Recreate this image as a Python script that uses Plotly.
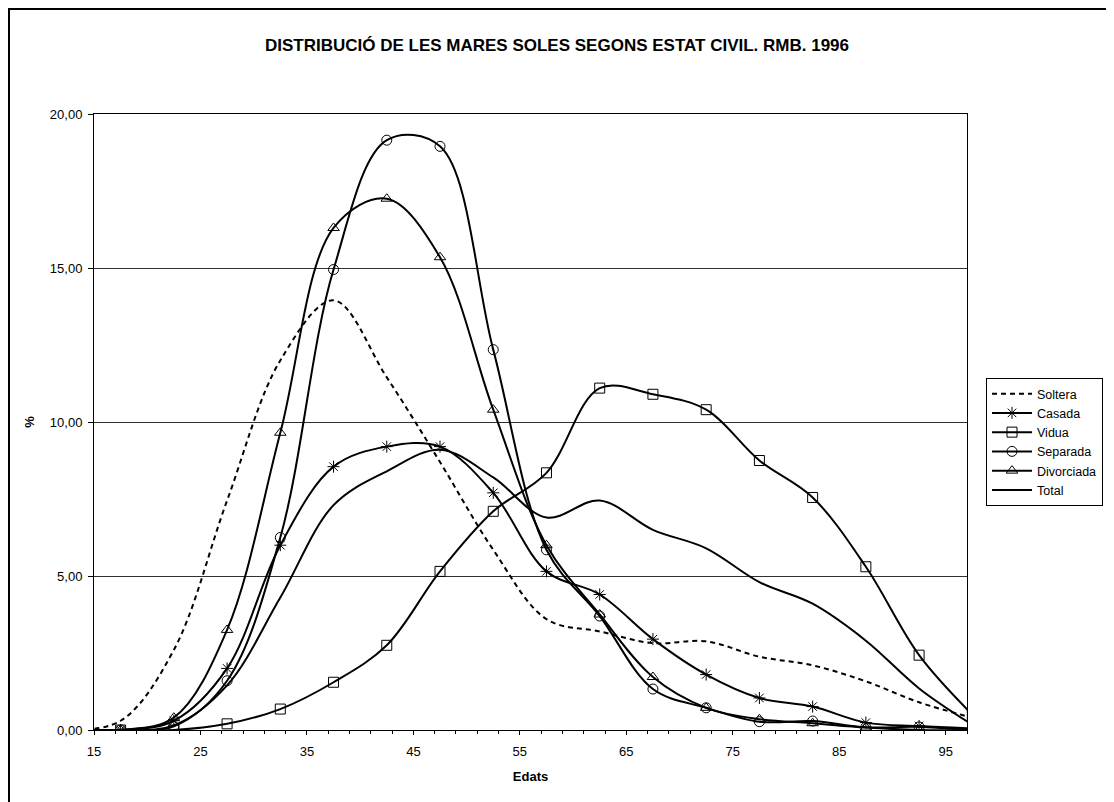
import plotly.graph_objects as go

# dades: mares soles per edat i estat civil (%)
edats = [12.5, 17.5, 22.5, 27.5, 32.5, 37.5, 42.5, 47.5, 52.5,
         57.5, 62.5, 67.5, 72.5, 77.5, 82.5, 87.5, 92.5, 97.5]

soltera = [0, 0.3, 2.6, 7.45, 12.0, 13.95, 11.45, 8.7, 5.85,
           3.6, 3.2, 2.82, 2.88, 2.38, 2.1, 1.58, 0.9, 0.4]
casada = [0, 0, 0.3, 2.0, 6.0, 8.55, 9.2, 9.2, 7.7,
          5.15, 4.4, 2.95, 1.8, 1.04, 0.76, 0.24, 0.13, 0.05]
vidua = [0, 0, 0, 0.2, 0.68, 1.55, 2.75, 5.15, 7.1,
         8.35, 11.1, 10.9, 10.4, 8.75, 7.55, 5.3, 2.43, 0.5]
separada = [0, 0, 0.12, 1.6, 6.25, 14.95, 19.15, 18.95, 12.35,
            5.85, 3.7, 1.33, 0.72, 0.27, 0.29, 0.09, 0.1, 0.0]
divorciada = [0, 0, 0.4, 3.25, 9.65, 16.3, 17.25, 15.35, 10.4,
              6.0, 3.75, 1.72, 0.72, 0.35, 0.22, 0.08, 0.0, 0.0]
total = [0, 0, 0.15, 1.45, 4.3, 7.3, 8.4, 9.1, 8.2,
         6.9, 7.45, 6.5, 5.9, 4.8, 4.1, 2.9, 1.35, 0.17]

series = [
    ('Soltera', soltera, None),
    ('Casada', casada, 'asterisk-open'),
    ('Vidua', vidua, 'square-open'),
    ('Separada', separada, 'circle-open'),
    ('Divorciada', divorciada, 'triangle-up-open'),
    ('Total', total, None),
]

font = 'Arial, Liberation Sans, sans-serif'

fig = go.Figure()
for nom, vals, simbol in series:
    line = dict(color='black', width=2, shape='spline', smoothing=1)
    if nom == 'Soltera':
        line['dash'] = '5px,4px'
    if simbol:
        fig.add_trace(go.Scatter(
            x=edats, y=vals, name=nom, mode='lines+markers', line=line,
            marker=dict(symbol=simbol, size=10, color='black',
                        line=dict(color='black', width=1))))
    else:
        fig.add_trace(go.Scatter(x=edats, y=vals, name=nom, mode='lines', line=line))

# the page body adds an 8px offset, so the figure is 8px smaller
OFF = 8
W, H = 1114 - OFF, 802 - OFF
# plot area in page pixels: left 94, right 967, top 114, bottom 730
l, t = 94 - OFF, 114 - OFF
r, b = W - (967 - OFF), H - (730 - OFF)
pw, ph = W - l - r, H - t - b

fig.update_layout(
    width=W, height=H,
    margin=dict(l=l, r=r, t=t, b=b, autoexpand=False),
    paper_bgcolor='white', plot_bgcolor='white',
    font=dict(family=font, size=13, color='black'),
    separators=',.',
    title=dict(text='<b>DISTRIBUCIÓ DE LES MARES SOLES SEGONS ESTAT CIVIL. RMB. 1996</b>',
               x=(557 - OFF) / W, xref='container', xanchor='center',
               y=1 - (45 - OFF) / H, yref='container', yanchor='middle',
               font=dict(size=17, family=font)),
    legend=dict(x=(986 - 94) / pw, y=(730 - 378) / ph, xanchor='left', yanchor='top',
                bgcolor='white', bordercolor='black', borderwidth=1,
                font=dict(size=12.5), tracegroupgap=0, itemwidth=40),
    showlegend=True,
)

fig.update_xaxes(
    range=[15, 97], tick0=15, dtick=10,
    showgrid=False, zeroline=False,
    showline=True, linecolor='black', linewidth=1, mirror=True,
    ticks='outside', ticklen=4, tickcolor='black', ticklabelstandoff=5,
    minor=dict(dtick=2, tick0=15, ticks='outside', ticklen=3, tickcolor='black'),
    title=dict(text='<b>Edats</b>', standoff=14, font=dict(size=13)),
)
fig.update_yaxes(
    range=[0, 20], dtick=5, tickformat='.2f',
    showgrid=True, gridcolor='#303030', gridwidth=1, zeroline=False,
    showline=True, linecolor='black', linewidth=1, mirror=True,
    ticks='outside', ticklen=5, tickcolor='black', ticklabelstandoff=3,
    title=dict(text='<b>%</b>', standoff=12, font=dict(size=13)),
)

# marc exterior del gràfic
fig.add_shape(type='rect', xref='paper', yref='paper',
              x0=(1 - l) / pw, x1=(W + 20 - l) / pw,
              y0=-(b + 20) / ph, y1=(ph + t - 1) / ph,
              line=dict(color='black', width=2), fillcolor='rgba(0,0,0,0)', layer='below')

fig.write_html("out.html")
